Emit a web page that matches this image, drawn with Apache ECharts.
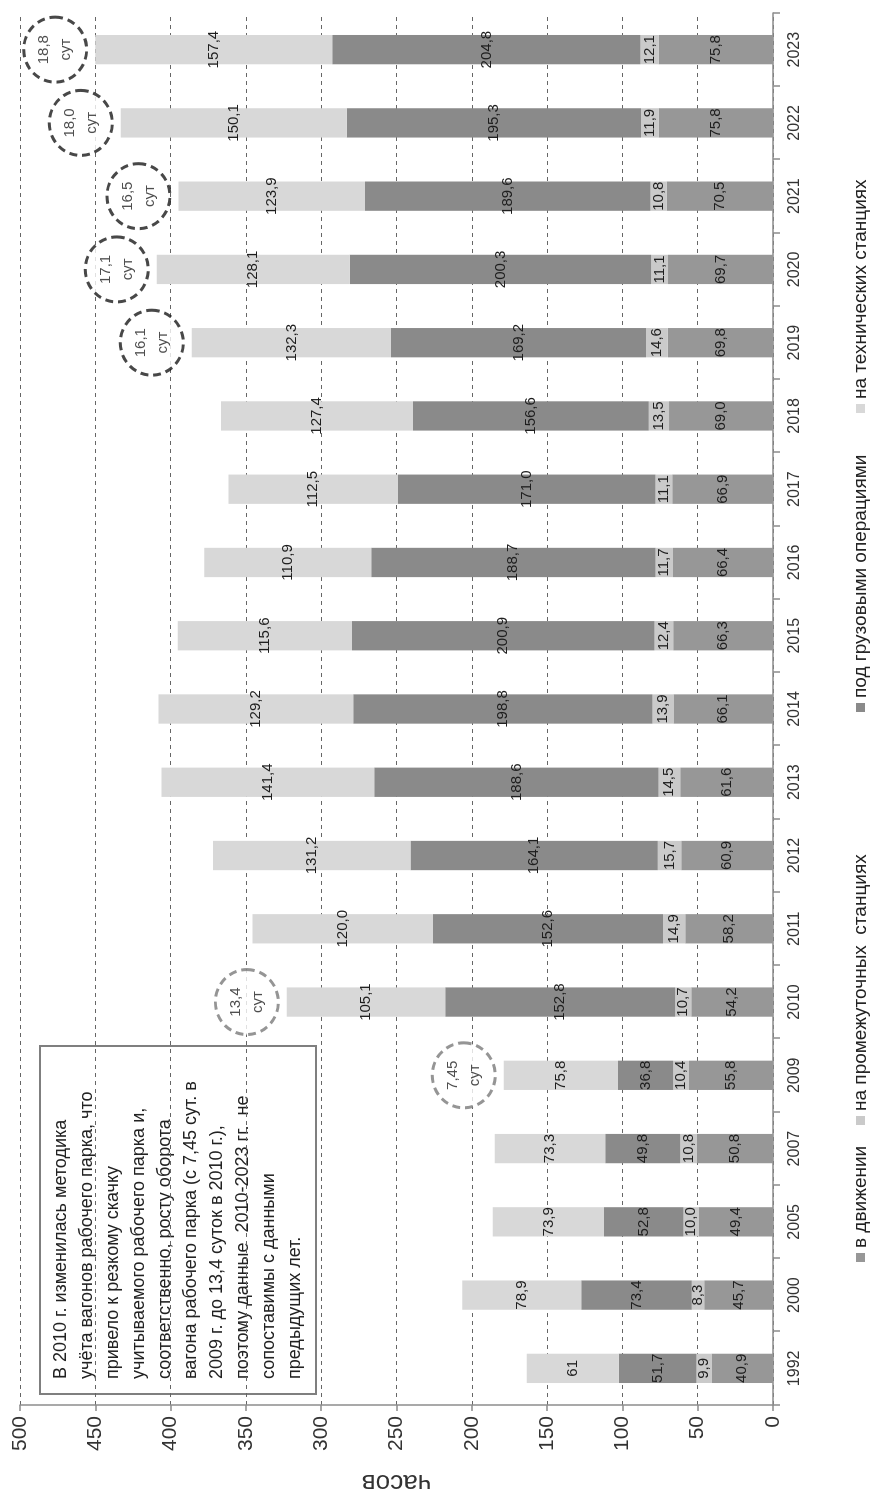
<!DOCTYPE html>
<html>
<head>
<meta charset="utf-8">
<script src="https://cdn.jsdelivr.net/npm/echarts@6/dist/echarts.min.js"></script>
<style>
  html, body { margin: 0; padding: 0; background: #fff; overflow: hidden; width: 879px; height: 1503px; }
  /* the chart is laid out landscape and turned a quarter turn counter-clockwise */
  #chart {
    position: absolute; left: 0; top: 0;
    width: 1503px; height: 879px;
    transform-origin: 0 0;
    transform: translate(0, 1503px) rotate(-90deg);
  }
</style>
</head>
<body>
<div id="chart"></div>
<script>
// Время оборота вагона рабочего парка по элементам, часов
const years = ['1992', '2000', '2005', '2007', '2009', '2010', '2011', '2012', '2013', '2014',
               '2015', '2016', '2017', '2018', '2019', '2020', '2021', '2022', '2023'];

const inMotion     = [40.9, 45.7, 49.4, 50.8, 55.8, 54.2, 58.2, 60.9, 61.6, 66.1,
                      66.3, 66.4, 66.9, 69.0, 69.8, 69.7, 70.5, 75.8, 75.8];
const intermediate = [9.9, 8.3, 10.0, 10.8, 10.4, 10.7, 14.9, 15.7, 14.5, 13.9,
                      12.4, 11.7, 11.1, 13.5, 14.6, 11.1, 10.8, 11.9, 12.1];
const cargoOps     = [51.7, 73.4, 52.8, 49.8, 36.8, 152.8, 152.6, 164.1, 188.6, 198.8,
                      200.9, 188.7, 171.0, 156.6, 169.2, 200.3, 189.6, 195.3, 204.8];
const technical    = [61, 78.9, 73.9, 73.3, 75.8, 105.1, 120.0, 131.2, 141.4, 129.2,
                      115.6, 110.9, 112.5, 127.4, 132.3, 128.1, 123.9, 150.1, 157.4];

// оборот вагона, суток
const turnoverDays = [null, null, null, null, 7.45, 13.4, null, null, null, null,
                      null, null, null, null, 16.1, 17.1, 16.5, 18.0, 18.8];

// years whose "на технических станциях" value is printed without a decimal
const wholeNumberYears = ['1992'];

const seriesNames = ['в движении', 'на промежуточных  станциях', 'под грузовыми операциями', 'на технических станциях'];
const valueMin = 0, valueMax = 500, valueStep = 50;

const FONT = "'Liberation Sans', Arial, sans-serif";
const colors = ['#979797', '#cacaca', '#8a8a8a', '#d8d8d8'];

function fmtNumber(v) {
  const tenths = v * 10;
  const digits = Math.abs(tenths - Math.round(tenths)) < 1e-6 ? 1 : 2;
  return v.toFixed(digits).replace('.', ',');
}

const stacks = [inMotion, intermediate, cargoOps, technical];
const totals = years.map((_, i) => stacks.reduce((s, arr) => s + arr[i], 0));

const barSeries = stacks.map((arr, si) => ({
  name: seriesNames[si],
  type: 'bar',
  stack: 'total',
  barWidth: '40%',
  data: arr,
  itemStyle: { color: colors[si] },
  label: {
    show: true,
    position: 'inside',
    color: '#1e1e1e',
    fontSize: 15,
    fontFamily: FONT,
    formatter: p => {
      if (si === 3 && wholeNumberYears.includes(p.name)) return String(Math.round(p.value));
      return p.value.toFixed(1).replace('.', ',');
    }
  }
}));

const circleSeries = {
  name: 'оборот',
  type: 'scatter',
  z: 5,
  symbol: 'circle',
  symbolSize: [65, 63],
  symbolOffset: [0, -40],
  data: years.map((y, i) => turnoverDays[i] == null ? '-' : {
    value: totals[i],
    days: turnoverDays[i],
    itemStyle: { borderColor: (+y <= 2010) ? '#7a7a7a' : '#1a1a1a' }
  }),
  itemStyle: { color: '#fff', borderWidth: 3, borderType: [8, 5] },
  label: {
    show: true,
    position: 'inside',
    color: '#222',
    fontSize: 15,
    lineHeight: 22,
    fontFamily: FONT,
    formatter: p => fmtNumber(p.data.days) + '\nсут'
  },
  emphasis: { disabled: true }
};

const noteLines = [
  'В 2010 г. изменилась методика',
  'учёта вагонов рабочего парка, что',
  'привело к резкому скачку',
  'учитываемого рабочего парка и,',
  'соответственно, росту оборота',
  'вагона рабочего парка (с 7,45 сут. в',
  '2009 г. до 13,4 суток в 2010 г.),',
  'поэтому данные  2010-2023 гг.  не',
  'сопоставимы с данными',
  'предыдущих лет.'
];

const legendLefts = [236, 373, 786, 1085];
const legends = seriesNames.map((n, i) => ({
  data: [n],
  left: legendLefts[i],
  top: 846,
  itemWidth: 9,
  itemHeight: 9,
  itemGap: 0,
  icon: 'rect',
  selectedMode: false,
  textStyle: { fontSize: 19, color: '#222', fontFamily: FONT }
}));

const chart = echarts.init(document.getElementById('chart'), null, { width: 1503, height: 879 });
chart.setOption({
  animation: false,
  backgroundColor: '#fff',
  textStyle: { fontFamily: FONT },
  grid: { left: 86, right: 13, top: 20, bottom: 106, containLabel: false },
  legend: legends,
  xAxis: {
    type: 'category',
    data: years,
    axisLine: { lineStyle: { color: '#8c8c8c', width: 1.5 } },
    axisTick: { show: true, length: 7, lineStyle: { color: '#8c8c8c', width: 1.5 } },
    axisLabel: { fontSize: 16, color: '#333', margin: 14, fontFamily: FONT }
  },
  yAxis: {
    type: 'value',
    min: valueMin, max: valueMax, interval: valueStep,
    name: 'часов',
    nameLocation: 'middle',
    nameGap: 64,
    nameTextStyle: { fontSize: 26, color: '#333', fontFamily: FONT },
    axisLine: { show: true, lineStyle: { color: '#8c8c8c', width: 1.5 } },
    axisTick: { show: true, length: 6, lineStyle: { color: '#8c8c8c', width: 1.5 } },
    axisLabel: { fontSize: 21, color: '#333', margin: 11, fontFamily: FONT },
    splitLine: { show: true, lineStyle: { color: '#666', width: 1, type: [4, 4] } }
  },
  graphic: [{
    type: 'group',
    left: 108, top: 39,
    z: 10,
    children: [{
      type: 'rect',
      shape: { x: 0, y: 0, width: 348, height: 276 },
      style: { fill: '#fff', stroke: '#7f7f7f', lineWidth: 2 }
    }, {
      type: 'text',
      x: 15, y: 8,
      style: {
        text: noteLines.join('\n'),
        font: "18px 'Liberation Sans', Arial, sans-serif",
        lineHeight: 26,
        fill: '#222'
      }
    }]
  }],
  series: [...barSeries, circleSeries]
});
</script>
</body>
</html>
